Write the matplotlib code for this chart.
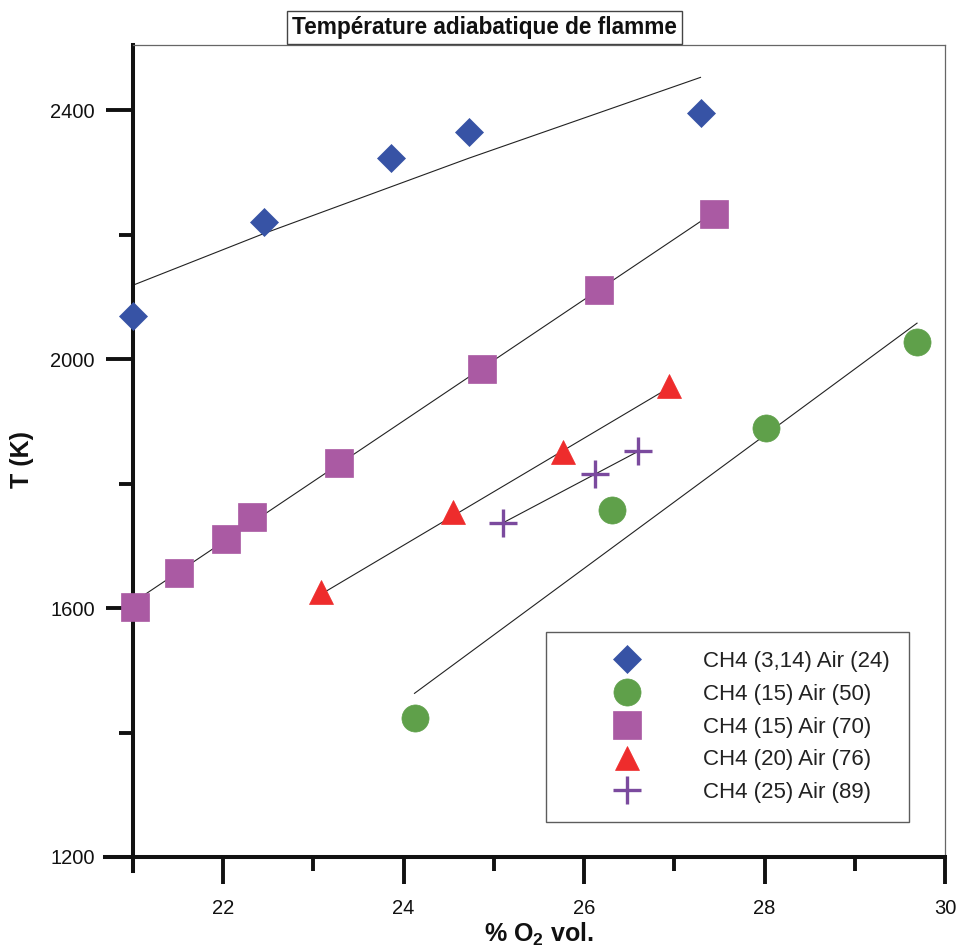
import matplotlib
matplotlib.use("Agg")
import matplotlib.pyplot as plt
from matplotlib.ticker import MultipleLocator

plt.rcParams['font.family'] = ['Liberation Sans', 'DejaVu Sans']
plt.rcParams['mathtext.fontset'] = 'custom'
plt.rcParams['mathtext.rm'] = 'Liberation Sans'
plt.rcParams['mathtext.bf'] = 'Liberation Sans:bold'

# ---- data ----
labels = ["CH4 (3,14) Air (24)", "CH4 (15) Air (50)", "CH4 (15) Air (70)",
          "CH4 (20) Air (76)", "CH4 (25) Air (89)"]

x_a = [21.0, 22.45, 23.86, 24.72, 27.29]
y_a = [2069, 2220, 2323, 2366, 2395]
fx_a = [21.0, 22.45, 24.72, 27.29]
fy_a = [2119, 2202, 2323, 2453]

x_b = [24.12, 26.31, 28.02, 29.69]
y_b = [1423, 1757, 1889, 2027]
fx_b = [24.12, 29.69]
fy_b = [1463, 2058]

x_c = [21.02, 21.51, 22.03, 22.32, 23.28, 24.87, 26.17, 27.44]
y_c = [1602, 1656, 1711, 1746, 1833, 1984, 2111, 2233]
fx_c = [21.02, 27.44]
fy_c = [1611, 2236]

x_d = [23.08, 24.55, 25.77, 26.94]
y_d = [1626, 1754, 1851, 1957]
fx_d = [23.08, 26.94]
fy_d = [1622, 1954]

x_e = [25.10, 26.12, 26.60]
y_e = [1737, 1815, 1852]
fx_e = [25.10, 26.60]
fy_e = [1737, 1852]

colors = ["#3753A5", "#5FA04A", "#AA5AA3", "#EE2C2C", "#7B4A9E"]

fig = plt.figure(figsize=(9.59, 9.52), dpi=100)
ax = fig.add_axes([0.1387, 0.0998, 0.8467, 0.8529])

line_kw = dict(color="#222222", lw=0.8, zorder=2)
for fx, fy in [(fx_a, fy_a), (fx_b, fy_b), (fx_c, fy_c), (fx_d, fy_d), (fx_e, fy_e)]:
    ax.plot(fx, fy, **line_kw)

mk = dict(ls="none", zorder=4, clip_on=False)
ax.plot(x_a, y_a, marker="D", ms=13.8, mfc=colors[0], mec=colors[0], mew=0.5, label=labels[0], **mk)
ax.plot(x_b, y_b, marker="o", ms=19.5, mfc=colors[1], mec=colors[1], mew=0.5, label=labels[1], **mk)
ax.plot(x_c, y_c, marker="s", ms=19.5, mfc=colors[2], mec=colors[2], mew=0.5, label=labels[2], **mk)
ax.plot(x_d, y_d, marker="^", ms=17, mfc=colors[3], mec=colors[3], mew=0.5, label=labels[3], **mk)
ax.plot(x_e, y_e, marker="+", ms=20, mec=colors[4], mew=2.4, label=labels[4], **mk)

ax.set_xlim(21, 30)
ax.set_ylim(1200, 2505)
ax.xaxis.set_major_locator(MultipleLocator(2))
ax.xaxis.set_minor_locator(MultipleLocator(1))
ax.yaxis.set_major_locator(MultipleLocator(400))
ax.yaxis.set_minor_locator(MultipleLocator(200))

for s in ["left", "bottom"]:
    ax.spines[s].set_linewidth(2.9)
    ax.spines[s].set_color("#111111")
for s in ["top", "right"]:
    ax.spines[s].set_linewidth(0.9)
    ax.spines[s].set_color("#666666")
ax.spines["bottom"].set_bounds(20.69, 30)
ax.spines["left"].set_bounds(1178, 2505)

ax.tick_params(which="major", direction="out", length=19.5, width=2.8, color="#111111",
               labelsize=14.5, labelcolor="#111111")
ax.tick_params(which="minor", direction="out", length=10, width=2.8, color="#111111")
ax.tick_params(axis="x", which="major", pad=11)
ax.tick_params(axis="y", which="major", pad=8)
ax.tick_params(top=False, right=False, which="both")

ax.set_xlabel(r"% O$_{\mathbf{2}}$ vol.", fontsize=18, fontweight="bold", color="#111111")
ax.xaxis.set_label_coords(0.5, -0.078)
ax.set_ylabel("T (K)", fontsize=18, fontweight="bold", color="#111111")
ax.yaxis.set_label_coords(-0.122, 0.49)

leg = ax.legend(loc="upper left", bbox_to_anchor=(0.5086, 0.277), borderaxespad=0,
                fontsize=16, frameon=True, fancybox=False, shadow=False,
                borderpad=0.85, handlelength=5.6, handletextpad=0.63, labelspacing=0.53,
                numpoints=1)
leg.get_frame().set_edgecolor("#333333")
leg.get_frame().set_linewidth(1.0)
for t in leg.get_texts():
    t.set_color("#222222")

fig.text(0.505, 0.9716, "Température adiabatique de flamme", ha="center", va="center",
         fontsize=16.3, fontweight="bold", color="#111111",
         bbox=dict(boxstyle="square,pad=0.22", fc="white", ec="#444444", lw=1.0))

fig.savefig("out.png", dpi=100)
